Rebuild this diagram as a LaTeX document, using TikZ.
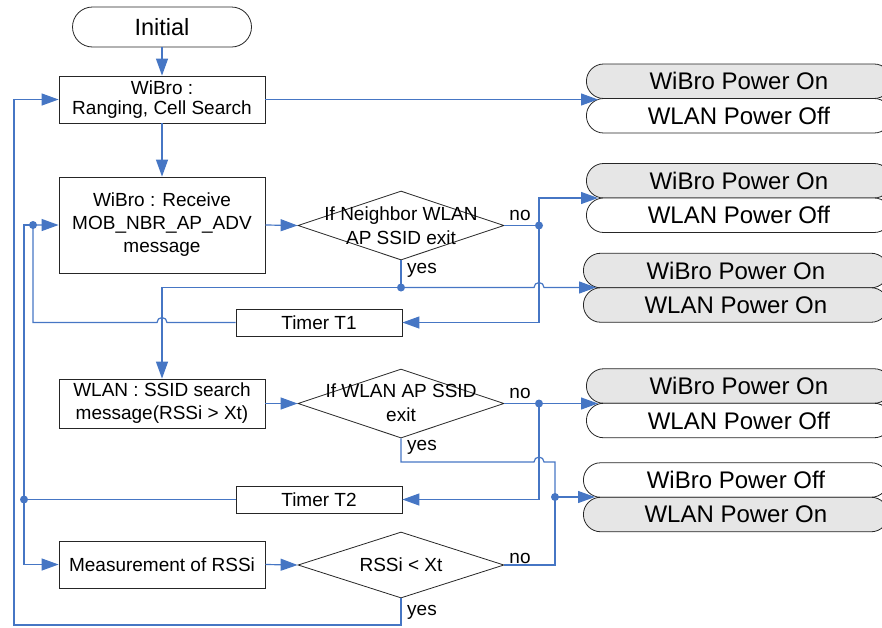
\documentclass[tikz,border=0pt]{standalone}
\usepackage{fontspec}
\setmainfont{Liberation Sans}
\usetikzlibrary{arrows.meta,shapes.geometric,shapes.misc}
\definecolor{lnblue}{RGB}{70,118,196}
\definecolor{pgrey}{RGB}{230,230,230}
\begin{document}
\begin{tikzpicture}[x=1pt,y=-1pt,
  box/.style={draw=black!85, line width=0.8pt, fill=white, minimum width=206pt, align=center, inner sep=0pt, font=\fontsize{19}{23}\selectfont},
  dec/.style={diamond, draw=black!85, line width=0.8pt, minimum width=206pt, minimum height=69pt, inner sep=0pt},
  dtext/.style={align=center, inner sep=0pt, font=\fontsize{19}{24}\selectfont},
  pw/.style={rounded rectangle, draw=black!85, line width=0.8pt, minimum width=305pt, minimum height=34.5pt, inner sep=0pt, anchor=west, font=\fontsize{24}{26}\selectfont},
  pon/.style={pw, fill=pgrey},
  poff/.style={pw, fill=white},
  conn/.style={draw=lnblue, line width=1.2pt},
  arr/.style={conn, -{Triangle[length=17pt,width=12pt]}},
  lbl/.style={inner sep=0pt, font=\fontsize{19}{22}\selectfont}]
\useasboundingbox (0,0) rectangle (882,627);
\clip (0,0) rectangle (882,627);

% main flow nodes
\node[box, rounded rectangle, minimum width=179pt, minimum height=40pt, font=\fontsize{23.5}{26}\selectfont] (init) at (162,27) {Initial};
\node[box, minimum height=47pt, font=\fontsize{19}{20.5}\selectfont] (b1) at (162,99.5) {WiBro :\\Ranging, Cell Search};
\node[box, minimum height=96pt] (b2) at (162,225) {WiBro : Receive\\MOB\_NBR\_AP\_ADV\\message};
\node[box, minimum height=49pt] (b3) at (162,403.5) {WLAN : SSID search\\message(RSSi > Xt)};
\node[box, minimum height=47pt] (b4) at (162,564.5) {Measurement of RSSi};
\node[box, minimum width=166pt, minimum height=27pt] (t1) at (319,322.5) {Timer T1};
\node[box, minimum width=166pt, minimum height=27pt] (t2) at (319,499.5) {Timer T2};

\node[dec] (d1) at (401,225.5) {};
\node[dtext] (d1t) at (401,225.5) {If Neighbor WLAN\\AP SSID exit};
\node[dec] (d2) at (401,403.5) {};
\node[dtext] (d2t) at (401,403) {If WLAN AP SSID\\exit};
\node[dec, minimum height=66pt] (d3) at (401,565) {};
\node[dtext] (d3t) at (401,565) {RSSi < Xt};

% power state pairs
\node[pon]  (p1a) at (586,81.25) {WiBro Power On};
\node[poff] (p1b) at (586,115.75) {WLAN Power Off};
\node[pon]  (p2a) at (586,180.75) {WiBro Power On};
\node[poff] (p2b) at (586,215.25) {WLAN Power Off};
\node[pon]  (p3a) at (583,270.5) {WiBro Power On};
\node[pon]  (p3b) at (583,305) {WLAN Power On};
\node[pon]  (p4a) at (586,386) {WiBro Power On};
\node[poff] (p4b) at (586,420.5) {WLAN Power Off};
\node[poff] (p5a) at (583,480) {WiBro Power Off};
\node[pon]  (p5b) at (583,514.5) {WLAN Power On};

% labels
\node[lbl] (no1) at (520,215) {no};
\node[lbl] (yes1) at (422,270) {yes};
\node[lbl] (no2) at (520,393) {no};
\node[lbl] (yes2) at (422,447) {yes};
\node[lbl] (no3) at (520,558) {no};
\node[lbl] (yes3) at (422,612) {yes};

% junction coordinates
\coordinate (j1) at (598,99.5);
\coordinate (j2) at (598,198);
\coordinate (j3) at (596,287.5);
\coordinate (j4) at (598,403.5);
\coordinate (j5) at (595,497);
\coordinate (n1) at (539,225.5);
\coordinate (y1) at (401,287.5);
\coordinate (r1) at (33,225);
\coordinate (r2) at (24,499.5);
\coordinate (n2) at (539,403.5);
\coordinate (m)  at (555,497);

% connectors
\draw[arr] (init.south) -- (b1.north);
\draw[arr] (b1.south) -- (b2.north);
\draw[arr] (b1.east) -- (j1);
\draw[arr] (b2.east) -- (d1.west);
\draw[conn] (d1.east) -- (n1);
\draw[arr] (n1) |- (j2);
\draw[arr] (n1) |- (t1.east);
\draw[conn] (d1.south) -- (y1);
\draw[arr] (y1) -| (b3.north);
\draw[arr] (y1) -- (534,287.5) arc[start angle=180, end angle=0, radius=5pt] -- (j3);
\draw[arr] (t1.west) -- (167,322.5) arc[start angle=0, end angle=180, radius=5pt] -- (33,322.5) -- (r1) -- (b2.west);
\draw[conn] (t2.west) -- (r2);
\draw[conn] (r2) -- (24,225) -- (r1);
\draw[arr] (r2) |- (b4.west);
\draw[arr] (b3.east) -- (d2.west);
\draw[conn] (d2.east) -- (n2);
\draw[arr] (n2) -- (j4);
\draw[arr] (n2) |- (t2.east);
\draw[conn] (d2.south) -- (401,462) -- (534,462) arc[start angle=180, end angle=0, radius=5pt] -- (555,462) -- (m);
\draw[arr] (m) -- (j5);
\draw[arr] (b4.east) -- (d3.west);
\draw[conn] (d3.east) -| (m);
\draw[arr] (d3.south) -- (401,625) -- (14,625) |- (b1.west);

% junction dots
\foreach \p in {n1,y1,r1,r2,n2,m} \fill[lnblue] (\p) circle[radius=4pt];
\end{tikzpicture}
\end{document}
